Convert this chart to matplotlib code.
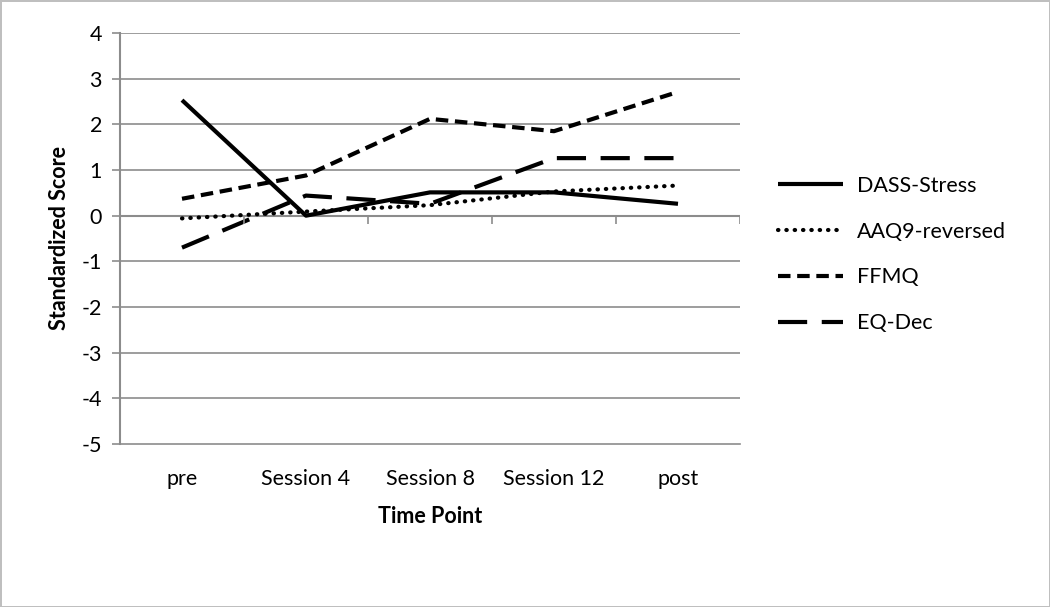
import numpy as np
import matplotlib.pyplot as plt
from matplotlib.transforms import blended_transform_factory

# Data
time_points = ["pre", "Session 4", "Session 8", "Session 12", "post"]
dass_stress = [2.53, 0.0, 0.51, 0.51, 0.26]
aaq9_reversed = [-0.06, 0.09, 0.23, 0.53, 0.66]
ffmq = [0.37, 0.88, 2.12, 1.85, 2.71]
eq_dec = [-0.70, 0.44, 0.26, 1.26, 1.26]

y_ticks = list(range(-5, 5))

plt.rcParams['font.family'] = ['Lato', 'DejaVu Sans']

W, H, DPI = 1050.0, 607.0, 100.0
fs = 15.5
fig = plt.figure(figsize=(W / DPI, H / DPI), dpi=DPI)
fig.patch.set_edgecolor('#bfbfbf')
fig.patch.set_linewidth(2)

ax = fig.add_axes([120 / W, 1 - 444 / H, 620 / W, 411 / H])

grey = '#8c8c8c'
x = np.arange(len(time_points))

ax.plot(x, dass_stress, color='black', lw=3, label='DASS-Stress', solid_capstyle='butt')
ax.plot(x, aaq9_reversed, color='black', lw=3, linestyle=(0, (0.1, 1.9)),
        dash_capstyle='round', label='AAQ9-reversed')
ax.plot(x, ffmq, color='black', lw=3, linestyle=(0, (3, 1.6)), label='FFMQ')
ax.plot(x, eq_dec, color='black', lw=3, linestyle=(0, (7, 3.5)), label='EQ-Dec')

ax.set_xlim(-0.5, len(time_points) - 0.5)
ax.set_ylim(-5, 4)
ax.set_yticks(y_ticks)
ax.set_yticklabels([str(v) for v in y_ticks])
for v in y_ticks[1:]:
    ax.axhline(v, color=grey, lw=1.2, zorder=0)

ax.set_xticks(x)
ax.set_xticklabels(time_points)
ax.tick_params(axis='x', length=0, pad=18, labelsize=fs)
ax.tick_params(axis='y', length=6, color=grey, width=1.2, labelsize=fs, pad=7)

for s in ['top', 'right']:
    ax.spines[s].set_visible(False)
ax.spines['left'].set_color(grey)
ax.spines['left'].set_linewidth(1.5)
ax.spines['bottom'].set_color(grey)
ax.spines['bottom'].set_linewidth(1.2)

# x axis line crosses at zero, with category boundary ticks
ax.axhline(0, color=grey, lw=1.5, zorder=1)
trans = blended_transform_factory(ax.transData, ax.transAxes)
bounds = np.arange(len(time_points) + 1) - 0.5
zero_frac = (0 - (-5)) / 9.0
ax.vlines(bounds, zero_frac - 0.02, zero_frac, transform=trans, color=grey, lw=1.2)

ax.set_ylabel('Standardized Score', fontsize=fs, fontweight='bold', labelpad=8)
ax.set_xlabel('Time Point', fontsize=fs, fontweight='bold', labelpad=12)

leg = ax.legend(loc='center left', bbox_to_anchor=(1.03, 0.461), frameon=False,
                fontsize=fs, handlelength=3.0, labelspacing=1.2, handletextpad=0.65)

plt.savefig('out.png', dpi=DPI)
